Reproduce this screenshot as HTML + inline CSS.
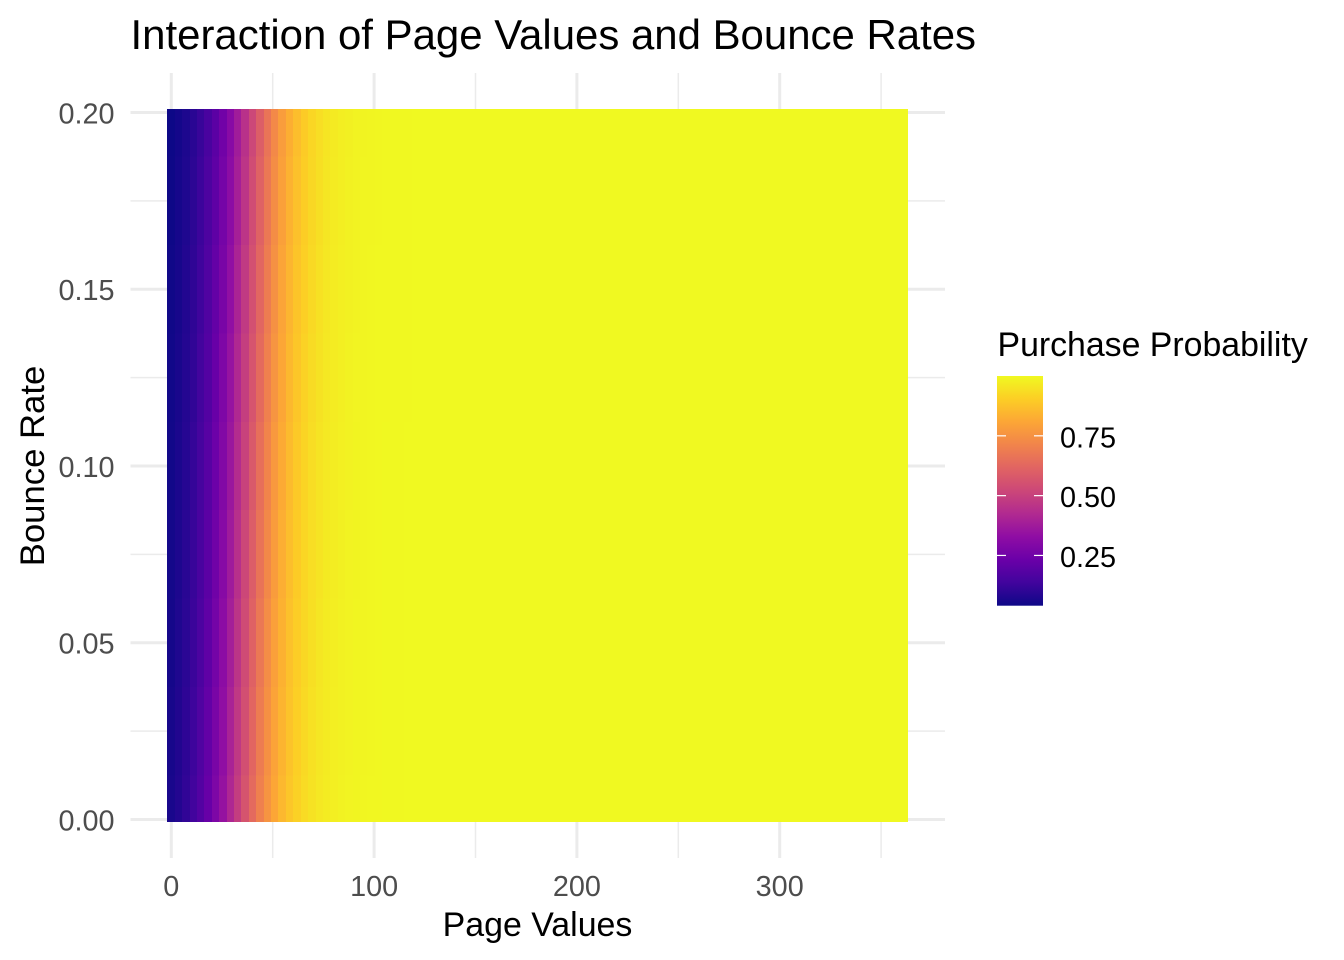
<!DOCTYPE html>
<html lang="en">
<head>
<meta charset="utf-8">
<title>Interaction of Page Values and Bounce Rates</title>
<style>
html,body{margin:0;padding:0;background:#fff;width:1344px;height:960px;overflow:hidden}
svg{display:block}
text{font-family:"Liberation Sans",Arial,sans-serif}
</style>
</head>
<body>
<svg id="chart" xmlns="http://www.w3.org/2000/svg" width="1344" height="960" viewBox="0 0 1344 960">
  <defs>
    <linearGradient id="legend-gradient" x1="0" y1="1" x2="0" y2="0"></linearGradient>
  </defs>
  <rect x="0" y="0" width="1344" height="960" fill="#ffffff"/>
  <g id="grid"></g>
  <g id="cells" shape-rendering="crispEdges"></g>
  <g id="x-ticks"></g>
  <g id="y-ticks"></g>
  <text x="130.5" y="49" font-size="41.95" fill="#000000">Interaction of Page Values and Bounce Rates</text>
  <text x="537.5" y="936" font-size="33.9" fill="#000000" text-anchor="middle">Page Values</text>
  <text transform="translate(44 466) rotate(-90)" font-size="34.7" fill="#000000" text-anchor="middle">Bounce Rate</text>
  <g id="legend">
    <text x="997.5" y="356" font-size="33.85" fill="#000000">Purchase Probability</text>
    <rect x="997" y="376" width="46" height="229.7" fill="url(#legend-gradient)"/>
  </g>
</svg>
<script>
// Axis data
const pageValues = [0,3.65,7.31,10.96,14.62,18.27,21.92,25.58,29.23,32.89,36.54,40.19,43.85,47.50,51.16,54.81,58.46,62.12,65.77,69.43,73.08,76.73,80.39,84.04,87.70,91.35,95.00,98.66,102.31,105.97,109.62,113.27,116.93,120.58,124.24,127.89,131.54,135.20,138.85,142.51,146.16,149.81,153.47,157.12,160.78,164.43,168.08,171.74,175.39,179.05,182.70,186.35,190.01,193.66,197.32,200.97,204.62,208.28,211.93,215.59,219.24,222.89,226.55,230.20,233.86,237.51,241.16,244.82,248.47,252.13,255.78,259.43,263.09,266.74,270.40,274.05,277.70,281.36,285.01,288.67,292.32,295.97,299.63,303.28,306.94,310.59,314.24,317.90,321.55,325.21,328.86,332.51,336.17,339.82,343.48,347.13,350.78,354.44,358.09,361.75];
const bounceRates = [0,0.025,0.05,0.075,0.10,0.125,0.15,0.175,0.20];
const xTickLabels = ["0","100","200","300"];
const yTickLabels = ["0.00","0.05","0.10","0.15","0.20"];
const xMinorBreaks = [50,150,250,350];
const yMinorBreaks = [0.025,0.075,0.125,0.175];
const legendTickLabels = ["0.25","0.50","0.75"];
const legendLimits = [0.04,1.0];

// Purchase probability per page-value column, one array per bounce rate
const probabilityAtBounce000 = [.062,.081,.107,.138,.178,.225,.281,.345,.415,.488,.562,.633,.699,.758,.808,.850,.884,.911,.932,.949,.962,.971,.978,.984,.988,.991,.993,.995,.996,.997,.998,.998,.999,.999,.999,.999,.999,.999,.999,
1,1,1,1,1,1,1,1,1,1,1,1,1,1,1,1,1,1,1,1,1,1,1,1,1,1,1,1,1,1,1,1,1,1,1,1,1,1,1,1,1,1,1,1,1,1,1,1,1,1,1,1,1,1,1,1,1,1,1,1,1];
const probabilityAtBounce0025 = [.058,.077,.101,.131,.170,.215,.270,.332,.401,.474,.548,.620,.687,.747,.799,.842,.878,.906,.928,.946,.960,.969,.977,.983,.987,.990,.992,.994,.996,.997,.998,.998,.999,.999,.999,.999,.999,.999,.999,
1,1,1,1,1,1,1,1,1,1,1,1,1,1,1,1,1,1,1,1,1,1,1,1,1,1,1,1,1,1,1,1,1,1,1,1,1,1,1,1,1,1,1,1,1,1,1,1,1,1,1,1,1,1,1,1,1,1,1,1,1];
const probabilityAtBounce005 = [.055,.073,.096,.125,.162,.206,.259,.320,.387,.460,.534,.606,.675,.736,.790,.835,.872,.901,.925,.943,.957,.968,.976,.982,.987,.990,.992,.994,.996,.997,.998,.998,.999,.999,.999,.999,.999,.999,.999,
1,1,1,1,1,1,1,1,1,1,1,1,1,1,1,1,1,1,1,1,1,1,1,1,1,1,1,1,1,1,1,1,1,1,1,1,1,1,1,1,1,1,1,1,1,1,1,1,1,1,1,1,1,1,1,1,1,1,1,1,1];
const probabilityAtBounce0075 = [.052,.069,.091,.119,.154,.197,.248,.307,.373,.445,.519,.592,.662,.724,.780,.826,.865,.896,.921,.940,.954,.966,.974,.981,.986,.989,.992,.994,.995,.997,.997,.998,.999,.999,.999,.999,.999,.999,.999,
1,1,1,1,1,1,1,1,1,1,1,1,1,1,1,1,1,1,1,1,1,1,1,1,1,1,1,1,1,1,1,1,1,1,1,1,1,1,1,1,1,1,1,1,1,1,1,1,1,1,1,1,1,1,1,1,1,1,1,1,1];
const probabilityAtBounce010 = [.050,.066,.087,.113,.147,.188,.237,.295,.360,.431,.505,.579,.649,.713,.770,.818,.858,.891,.917,.937,.952,.964,.973,.980,.985,.989,.992,.994,.995,.997,.997,.998,.999,.999,.999,.999,.999,.999,.999,
1,1,1,1,1,1,1,1,1,1,1,1,1,1,1,1,1,1,1,1,1,1,1,1,1,1,1,1,1,1,1,1,1,1,1,1,1,1,1,1,1,1,1,1,1,1,1,1,1,1,1,1,1,1,1,1,1,1,1,1,1];
const probabilityAtBounce0125 = [.047,.062,.082,.107,.140,.179,.227,.283,.347,.417,.490,.564,.635,.701,.759,.809,.851,.885,.912,.933,.949,.962,.971,.978,.984,.988,.991,.993,.995,.996,.997,.998,.998,.999,.999,.999,.999,.999,.999,
1,1,1,1,1,1,1,1,1,1,1,1,1,1,1,1,1,1,1,1,1,1,1,1,1,1,1,1,1,1,1,1,1,1,1,1,1,1,1,1,1,1,1,1,1,1,1,1,1,1,1,1,1,1,1,1,1,1,1,1,1];
const probabilityAtBounce015 = [.045,.059,.078,.102,.133,.171,.217,.272,.334,.403,.476,.550,.622,.689,.749,.801,.844,.879,.907,.929,.947,.960,.970,.977,.983,.987,.991,.993,.995,.996,.997,.998,.998,.999,.999,.999,.999,.999,.999,
1,1,1,1,1,1,1,1,1,1,1,1,1,1,1,1,1,1,1,1,1,1,1,1,1,1,1,1,1,1,1,1,1,1,1,1,1,1,1,1,1,1,1,1,1,1,1,1,1,1,1,1,1,1,1,1,1,1,1,1,1];
const probabilityAtBounce0175 = [.042,.056,.074,.097,.126,.163,.207,.261,.321,.389,.462,.536,.608,.676,.738,.791,.836,.872,.902,.925,.943,.957,.968,.976,.982,.986,.990,.992,.994,.996,.997,.998,.998,.999,.999,.999,.999,.999,.999,
1,1,1,1,1,1,1,1,1,1,1,1,1,1,1,1,1,1,1,1,1,1,1,1,1,1,1,1,1,1,1,1,1,1,1,1,1,1,1,1,1,1,1,1,1,1,1,1,1,1,1,1,1,1,1,1,1,1,1,1,1];
const probabilityAtBounce020 = [.040,.053,.070,.092,.120,.155,.198,.250,.309,.376,.448,.522,.595,.664,.727,.782,.828,.866,.897,.921,.940,.955,.966,.975,.981,.986,.989,.992,.994,.996,.997,.998,.998,.999,.999,.999,.999,.999,.999,
1,1,1,1,1,1,1,1,1,1,1,1,1,1,1,1,1,1,1,1,1,1,1,1,1,1,1,1,1,1,1,1,1,1,1,1,1,1,1,1,1,1,1,1,1,1,1,1,1,1,1,1,1,1,1,1,1,1,1,1,1];
const probabilityRows = [probabilityAtBounce000,probabilityAtBounce0025,probabilityAtBounce005,probabilityAtBounce0075,probabilityAtBounce010,probabilityAtBounce0125,probabilityAtBounce015,probabilityAtBounce0175,probabilityAtBounce020];

const plasmaStops = ["#0d0887","#41049d","#6a00a8","#8f0da4","#b12a90","#cc4778","#e16462","#f1844b","#fca636","#fcce25","#f0f921"];

// Scales
const SVG_NS = "http://www.w3.org/2000/svg";
const xScale = v => 171.3 + v * 2.028;
const yScale = v => 819.5 - v * 3535;
const legendY = v => 605.7 - (v - legendLimits[0]) / (legendLimits[1] - legendLimits[0]) * 229.7;

function hexToRgb(h){return [1,3,5].map(i => parseInt(h.slice(i,i+2),16));}
function colorFor(p){
  let t = (p - legendLimits[0]) / (legendLimits[1] - legendLimits[0]);
  t = Math.max(0, Math.min(1, t)) * (plasmaStops.length - 1);
  const i = Math.min(Math.floor(t), plasmaStops.length - 2);
  const a = hexToRgb(plasmaStops[i]), b = hexToRgb(plasmaStops[i + 1]);
  const f = t - i;
  return "rgb(" + a.map((c, k) => Math.round(c + (b[k] - c) * f)).join(",") + ")";
}
function make(tag, attrs, parent){
  const el = document.createElementNS(SVG_NS, tag);
  for (const k in attrs) el.setAttribute(k, attrs[k]);
  parent.appendChild(el);
  return el;
}

// Grid
const grid = document.getElementById("grid");
const panel = {left:130.5, right:945, top:73, bottom:858};
xMinorBreaks.forEach(v => {
  const line = make("line", {x1:xScale(v), x2:xScale(v), y1:panel.top, y2:panel.bottom, stroke:"#ebebeb", "stroke-width":1.5}, grid);
  
  
});
yMinorBreaks.forEach(v => {
  const line = make("line", {x1:panel.left, x2:panel.right, y1:yScale(v), y2:yScale(v), stroke:"#ebebeb", "stroke-width":1.5}, grid);
  
  
});
xTickLabels.forEach(label => {
  const v = parseFloat(label);
  const line = make("line", {x1:xScale(v), x2:xScale(v), y1:panel.top, y2:panel.bottom, stroke:"#ebebeb", "stroke-width":3}, grid);
  
  
});
yTickLabels.forEach(label => {
  const v = parseFloat(label);
  const line = make("line", {x1:panel.left, x2:panel.right, y1:yScale(v), y2:yScale(v), stroke:"#ebebeb", "stroke-width":3}, grid);
  
  
});

// Heatmap cells
const cells = document.getElementById("cells");
const xStep = (pageValues[pageValues.length - 1] - pageValues[0]) / (pageValues.length - 1);
probabilityRows.forEach((row, r) => {
  const yBottom = r === 0 ? yScale(bounceRates[0]) + 2.5 : yScale((bounceRates[r] + bounceRates[r - 1]) / 2);
  const yTop = r === bounceRates.length - 1 ? yScale(bounceRates[r]) - 3.5 : yScale((bounceRates[r] + bounceRates[r + 1]) / 2);
  row.forEach((p, c) => {
    const x0 = Math.round(xScale(pageValues[c] - xStep / 2) - 0.3);
    const x1 = Math.round(xScale(c < row.length - 1 ? pageValues[c + 1] - xStep / 2 : pageValues[c] + xStep / 2) - 0.3);
    const cell = make("rect", {x:x0, y:yTop, width:x1 - x0, height:yBottom - yTop, fill:colorFor(p)}, cells);
    
    
  });
});

// Tick labels
const xTicksGroup = document.getElementById("x-ticks");
xTickLabels.forEach(label => {
  const t = make("text", {x:xScale(parseFloat(label)), y:896, "font-size":28.8, fill:"#4d4d4d", "text-anchor":"middle"}, xTicksGroup);
  
  
  t.textContent = label;
});
const yTicksGroup = document.getElementById("y-ticks");
yTickLabels.forEach(label => {
  const t = make("text", {x:114.5, y:yScale(parseFloat(label)) + 10.8, "font-size":28.8, fill:"#4d4d4d", "text-anchor":"end"}, yTicksGroup);
  
  
  t.textContent = label;
});

// Legend
const gradient = document.getElementById("legend-gradient");
for (let i = 0; i < plasmaStops.length; i++) {
  make("stop", {offset:(i / (plasmaStops.length - 1)), "stop-color":plasmaStops[i]}, gradient);
}
const legend = document.getElementById("legend");
legendTickLabels.forEach(label => {
  const v = parseFloat(label);
  const y = legendY(v);
  const left = make("line", {x1:997, x2:1006, y1:y, y2:y, stroke:"#ffffff", "stroke-width":1.2}, legend);
  
  
  const right = make("line", {x1:1034, x2:1043, y1:y, y2:y, stroke:"#ffffff", "stroke-width":1.2}, legend);
  
  
  const t = make("text", {x:1060, y:y + 11.5, "font-size":28.8, fill:"#000000"}, legend);
  
  
  t.textContent = label;
});
</script>
</body>
</html>
